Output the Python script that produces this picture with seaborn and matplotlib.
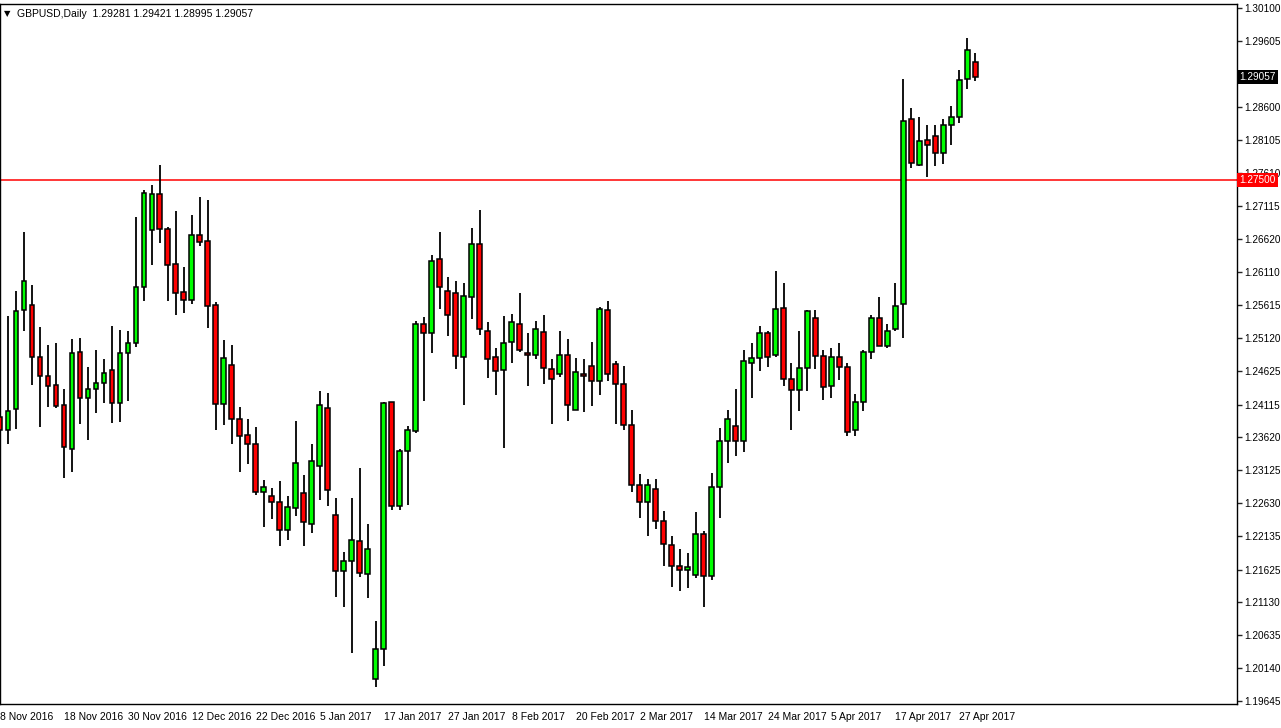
import seaborn as sns
import matplotlib.pyplot as plt
import numpy as np

sns.set_style("white")
plt.rcParams['font.family'] = ['Liberation Sans', 'DejaVu Sans']

# --- Dados (GBPUSD diário, 8 Nov 2016 - 28 Apr 2017) ---
abertura = [1.2393, 1.2374, 1.2405, 1.2554, 1.2562, 1.2483, 1.2455, 1.2441, 1.2411, 1.2345,
            1.2491, 1.2422, 1.2435, 1.2444, 1.2464, 1.2414, 1.2489, 1.2505, 1.2589, 1.2675,
            1.2729, 1.2676, 1.2623, 1.2581, 1.2569, 1.2667, 1.2658, 1.2562, 1.2412, 1.2471,
            1.2390, 1.2366, 1.2352, 1.2280, 1.2274, 1.2265, 1.2222, 1.2256, 1.2278, 1.2231,
            1.2319, 1.2406, 1.2245, 1.2160, 1.2175, 1.2206, 1.2156, 1.1997, 1.2043, 1.2415,
            1.2258, 1.2342, 1.2372, 1.2533, 1.2520, 1.2631, 1.2583, 1.2580, 1.2483, 1.2574,
            1.2654, 1.2523, 1.2483, 1.2464, 1.2506, 1.2533, 1.2489, 1.2486, 1.2521, 1.2465,
            1.2458, 1.2486, 1.2403, 1.2458, 1.2470, 1.2447, 1.2554, 1.2473, 1.2443, 1.2381,
            1.2291, 1.2265, 1.2284, 1.2236, 1.2200, 1.2168, 1.2162, 1.2155, 1.2216, 1.2153,
            1.2287, 1.2357, 1.2379, 1.2357, 1.2475, 1.2482, 1.2520, 1.2487, 1.2557, 1.2450,
            1.2433, 1.2467, 1.2542, 1.2485, 1.2440, 1.2483, 1.2468, 1.2373, 1.2415, 1.2491,
            1.2542, 1.2500, 1.2526, 1.2563, 1.2843, 1.2773, 1.2811, 1.2817, 1.2791, 1.2834,
            1.2846, 1.2903, 1.29281]
maxima = [1.2411, 1.2545, 1.2583, 1.2672, 1.2592, 1.2529, 1.2502, 1.2505, 1.2435, 1.2511,
          1.2512, 1.2468, 1.2494, 1.2480, 1.2530, 1.2524, 1.2523, 1.2695, 1.2735, 1.2743,
          1.2773, 1.2680, 1.2704, 1.2619, 1.2698, 1.2725, 1.2720, 1.2566, 1.2509, 1.2502,
          1.2408, 1.2390, 1.2378, 1.2298, 1.2286, 1.2296, 1.2274, 1.2387, 1.2305, 1.2352,
          1.2432, 1.2429, 1.2271, 1.2189, 1.2271, 1.2316, 1.2231, 1.2085, 1.2415, 1.2415,
          1.2345, 1.2379, 1.2538, 1.2544, 1.2637, 1.2672, 1.2604, 1.2598, 1.2595, 1.2678,
          1.2705, 1.2536, 1.2497, 1.2545, 1.2548, 1.2580, 1.2520, 1.2538, 1.2547, 1.2480,
          1.2523, 1.2511, 1.2482, 1.2480, 1.2506, 1.2559, 1.2568, 1.2477, 1.2470, 1.2403,
          1.2307, 1.2299, 1.2299, 1.2251, 1.2213, 1.2193, 1.2188, 1.2249, 1.2221, 1.2308,
          1.2376, 1.2403, 1.2435, 1.2494, 1.2505, 1.2530, 1.2523, 1.2613, 1.2595, 1.2474,
          1.2523, 1.2554, 1.2554, 1.2494, 1.2497, 1.2505, 1.2475, 1.2427, 1.2494, 1.2547,
          1.2574, 1.2533, 1.2595, 1.2903, 1.2859, 1.2846, 1.2833, 1.2834, 1.2843, 1.2862,
          1.2916, 1.2965, 1.29421]
minimas = [1.2358, 1.2352, 1.2375, 1.2523, 1.2441, 1.2378, 1.2408, 1.2406, 1.2301, 1.2310,
           1.2382, 1.2358, 1.2399, 1.2414, 1.2384, 1.2385, 1.2417, 1.2499, 1.2568, 1.2622,
           1.2655, 1.2568, 1.2547, 1.2550, 1.2563, 1.2651, 1.2527, 1.2373, 1.2381, 1.2352,
           1.2310, 1.2322, 1.2275, 1.2227, 1.2239, 1.2198, 1.2207, 1.2243, 1.2198, 1.2218,
           1.2268, 1.2258, 1.2121, 1.2106, 1.2037, 1.2151, 1.2119, 1.1985, 1.2017, 1.2252,
           1.2252, 1.2260, 1.2369, 1.2417, 1.2489, 1.2556, 1.2515, 1.2465, 1.2411, 1.2541,
           1.2517, 1.2452, 1.2426, 1.2346, 1.2474, 1.2491, 1.2440, 1.2480, 1.2443, 1.2382,
           1.2453, 1.2387, 1.2403, 1.2400, 1.2410, 1.2426, 1.2447, 1.2382, 1.2373, 1.2280,
           1.2240, 1.2213, 1.2224, 1.2168, 1.2136, 1.2130, 1.2135, 1.2150, 1.2106, 1.2147,
           1.2240, 1.2323, 1.2334, 1.2340, 1.2422, 1.2462, 1.2468, 1.2483, 1.2440, 1.2374,
           1.2402, 1.2432, 1.2465, 1.2419, 1.2422, 1.2449, 1.2364, 1.2364, 1.2402, 1.2480,
           1.2500, 1.2497, 1.2523, 1.2512, 1.2768, 1.2771, 1.2755, 1.2771, 1.2774, 1.2803,
           1.2836, 1.2888, 1.28995]
fechamento = [1.2373, 1.2402, 1.2553, 1.2598, 1.2483, 1.2455, 1.2440, 1.2410, 1.2348, 1.2489,
              1.2422, 1.2435, 1.2444, 1.2459, 1.2414, 1.2489, 1.2505, 1.2589, 1.2731, 1.2729,
              1.2676, 1.2622, 1.2580, 1.2569, 1.2667, 1.2657, 1.2560, 1.2412, 1.2482, 1.2390,
              1.2364, 1.2352, 1.2280, 1.2287, 1.2265, 1.2222, 1.2257, 1.2323, 1.2234, 1.2326,
              1.2411, 1.2283, 1.2160, 1.2175, 1.2207, 1.2157, 1.2193, 1.2043, 1.2414, 1.2258,
              1.2342, 1.2373, 1.2533, 1.2520, 1.2628, 1.2589, 1.2547, 1.2485, 1.2575, 1.2654,
              1.2526, 1.2480, 1.2462, 1.2505, 1.2536, 1.2494, 1.2486, 1.2526, 1.2467, 1.2450,
              1.2486, 1.2411, 1.2461, 1.2455, 1.2447, 1.2556, 1.2458, 1.2443, 1.2381, 1.2290,
              1.2265, 1.2290, 1.2236, 1.2201, 1.2168, 1.2162, 1.2167, 1.2216, 1.2153, 1.2287,
              1.2357, 1.2390, 1.2357, 1.2477, 1.2482, 1.2520, 1.2483, 1.2556, 1.2450, 1.2433,
              1.2467, 1.2553, 1.2485, 1.2438, 1.2483, 1.2468, 1.2370, 1.2415, 1.2491, 1.2542,
              1.2500, 1.2523, 1.2560, 1.2840, 1.2776, 1.2809, 1.2803, 1.2791, 1.2834, 1.2845,
              1.2901, 1.2947, 1.29057]

rotulos_datas = ['8 Nov 2016', '18 Nov 2016', '30 Nov 2016', '12 Dec 2016', '22 Dec 2016',
                 '5 Jan 2017', '17 Jan 2017', '27 Jan 2017', '8 Feb 2017', '20 Feb 2017',
                 '2 Mar 2017', '14 Mar 2017', '24 Mar 2017', '5 Apr 2017', '17 Apr 2017',
                 '27 Apr 2017']
precos_eixo = [1.30100, 1.29605, 1.28600, 1.28105, 1.27610, 1.27115, 1.26620, 1.26110,
               1.25615, 1.25120, 1.24625, 1.24115, 1.23620, 1.23125, 1.22630, 1.22135,
               1.21625, 1.21130, 1.20635, 1.20140, 1.19645]
nivel = 1.27500

# --- Figura ---
fig = plt.figure(figsize=(12.81, 7.28), dpi=100)
fig.patch.set_facecolor('white')
ax = fig.add_axes([0.0, 0.033, 0.9656, 0.9615])

o = np.array(abertura); h = np.array(maxima); l = np.array(minimas); c = np.array(fechamento)
idx = np.arange(len(o))
sobe = c >= o
cores = np.where(sobe, '#00FF00', '#FF0000')

ax.vlines(idx, l, h, color='black', linewidth=1.3, zorder=2)
base = np.minimum(o, c)
altura = np.maximum(np.abs(c - o), 0.00008)
ax.bar(idx, altura, bottom=base, width=0.6, color=cores, edgecolor='black',
       linewidth=1.1, zorder=3)

ax.axhline(nivel, color='#FF0000', linewidth=1.1, zorder=1)

ax.set_xlim(0.09, 0.09 + 1237 / 8)
ax.set_ylim(1.19598, 1.30161)

# eixo de datas
ax.set_xticks(idx[::8])
ax.set_xticklabels(rotulos_datas, ha='left', fontsize=7.5, color='black')
ax.tick_params(axis='x', direction='out', length=4, pad=2, width=1)

# eixo de preços à direita
ax.yaxis.tick_right()
ax.set_yticks(precos_eixo)
ax.set_yticklabels([f'{p:.5f}' for p in precos_eixo], fontsize=7.2, color='black')
ax.tick_params(axis='y', direction='out', length=3.5, pad=2, width=1)

for s in ax.spines.values():
    s.set_color('black')
    s.set_linewidth(1)
ax.grid(False)

# caixas de preço
ax.text(1.002, nivel, f'{nivel:.5f}', transform=ax.get_yaxis_transform(), fontsize=7.2,
        color='white', va='center', ha='left', zorder=5,
        bbox=dict(boxstyle='square,pad=0.2', fc='#FF0000', ec='none'))
ax.text(1.002, c[-1], f'{c[-1]:.5f}', transform=ax.get_yaxis_transform(), fontsize=7.2,
        color='white', va='center', ha='left', zorder=5,
        bbox=dict(boxstyle='square,pad=0.2', fc='black', ec='none'))

# cabeçalho
fig.text(0.003, 0.981, '▼', fontsize=6, color='black', va='center', family='DejaVu Sans')
fig.text(0.013, 0.981, f'GBPUSD,Daily  {o[-1]:.5f} {h[-1]:.5f} {l[-1]:.5f} {c[-1]:.5f}',
         fontsize=7.5, color='black', va='center')

fig.savefig('out.png', dpi=100, facecolor='white')
